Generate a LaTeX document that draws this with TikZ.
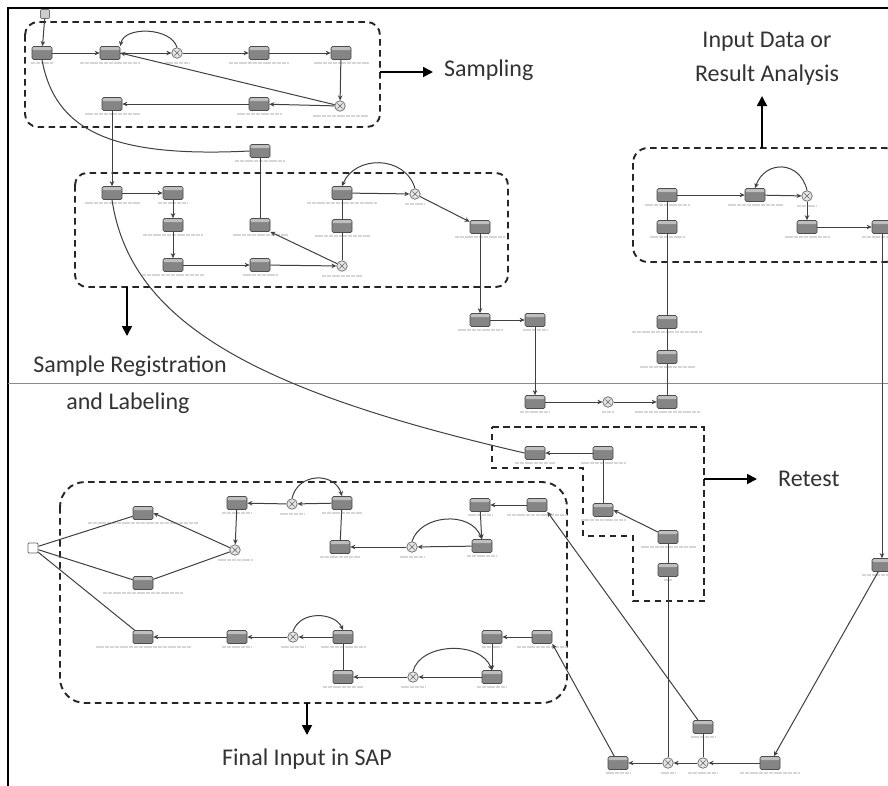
\documentclass[tikz,border=0pt]{standalone}
\usepackage{fontspec}
\setmainfont{Carlito}
\usetikzlibrary{arrows.meta}
\tikzset{
  task/.style={draw=black!70, fill=black!48, rounded corners=1.5pt, minimum width=20pt, minimum height=13pt, inner sep=0pt, line width=0.7pt,
    path picture={\fill[black!25] (path picture bounding box.north west) rectangle ([yshift=-3.5pt]path picture bounding box.north east);}},
  gate/.style={circle, draw=black!60, fill=black!10, minimum size=10.5pt, inner sep=0pt, line width=0.7pt,
    path picture={\draw[black!60,line width=0.6pt] ([shift={(-2.6pt,-2.6pt)}]path picture bounding box.center) -- ([shift={(2.6pt,2.6pt)}]path picture bounding box.center)
      ([shift={(-2.6pt,2.6pt)}]path picture bounding box.center) -- ([shift={(2.6pt,-2.6pt)}]path picture bounding box.center);}},
  startevt/.style={draw=black!55, fill=black!20, rounded corners=1pt, minimum width=9pt, minimum height=9pt, inner sep=0pt, line width=0.6pt},
  startwhite/.style={draw=black!60, fill=white, rounded corners=1pt, minimum width=10pt, minimum height=10pt, inner sep=0pt, line width=0.9pt},
  flow/.style={draw=black!75, line width=1pt, -{Stealth[length=5pt,width=4.5pt]}},
  link/.style={draw=black!75, line width=1pt},
  sublbl/.style={draw=black!16, line width=2pt, dash pattern=on 4pt off 0.8pt},
  grp/.style={draw=black!85, line width=1.9pt, dash pattern=on 6.5pt off 4.5pt},
  big/.style={draw=black, line width=1.8pt, -{Triangle[length=10pt,width=10pt]}},
  lbl/.style={font=\fontsize{24}{28}\selectfont, text=black!80, inner sep=0pt},
}
\newcommand\tk[4]{\node[task] (#1) at (#2,#3) {}; \draw[sublbl] (#2-#4/2,#3+10) -- ++(#4,0);}
\newcommand\gw[4]{\node[gate] (#1) at (#2,#3) {}; \draw[sublbl] (#2-#4/2,#3+10) -- ++(#4,0);}
\begin{document}
\begin{tikzpicture}[x=1pt,y=-1pt]
\useasboundingbox (0,0) rectangle (888,785);
\clip (0,0) rectangle (888,785);
\fill[white] (0,0) rectangle (888,785);
% frame and separator
\draw[line width=2.8pt] (8,786) -- (8,8) -- (890,8);
\draw[black!45, line width=0.9pt] (8,383) -- (890,383);

% group boxes
\draw[grp, rounded corners=13pt] (25,22) rectangle (380,127);
\draw[grp, rounded corners=12pt] (75,173) rectangle (508,287);
\draw[grp, rounded corners=15pt] (633,148) rectangle (900,262);
\draw[grp, rounded corners=25pt] (60,482) rectangle (567,703);
\draw[grp] (492,427) -- (704,427) -- (704,601) -- (633,601) -- (633,536) -- (583,536) -- (583,468) -- (492,468) -- cycle;

% ---- top: sampling
\node[startevt] (st) at (45,14) {};
\tk{N1}{42}{53}{22}
\tk{N2}{110}{53}{60}
\gw{G1}{177}{53}{25}
\tk{N3}{259}{53}{60}
\tk{N4}{341}{53}{55}
\gw{G2}{340}{106}{55}
\tk{N5}{259}{104}{45}
\tk{N6}{112}{104}{55}
\tk{N7}{260}{151}{50}
% ---- group 2
\tk{N8}{112}{193}{55}
\tk{N9}{173}{193}{30}
\tk{N10}{173}{225}{60}
\tk{N11}{173}{265}{62}
\tk{N12}{260}{265}{35}
\gw{G3}{342}{266}{40}
\tk{N13}{260}{225}{55}
\tk{N14}{342}{226}{55}
\tk{N15}{342}{193}{70}
\gw{G4}{415}{194}{20}
\tk{N16}{480}{227}{50}
\tk{N17}{480}{320}{45}
\tk{N18}{535}{320}{25}
\tk{N19}{535}{402}{30}
\gw{G5}{608}{402}{12}
\tk{N20}{667}{402}{65}
\tk{N21}{667}{357}{55}
\tk{N22}{667}{322}{70}
\tk{N24}{667}{227}{35}
\tk{N23}{667}{195}{45}
\tk{N25}{755}{195}{55}
\gw{G6}{807}{196}{20}
\tk{N26}{807}{227}{45}
\tk{N27}{882}{227}{40}
\tk{N28}{882}{565}{40}
\tk{N29}{770}{763}{60}
\gw{G8}{703}{763}{30}
\gw{G7}{668}{763}{15}
\tk{N30}{618}{763}{25}
\tk{N31}{703}{727}{25}
% ---- retest
\tk{R1}{535}{453}{40}
\tk{R2}{603}{453}{45}
\tk{R3}{603}{510}{45}
\tk{R4}{668}{537}{55}
\tk{R5}{668}{570}{8}
% ---- final input
\node[startwhite] (S2) at (33,548) {};
\tk{F1}{143}{513}{110}
\tk{F2}{143}{583}{80}
\gw{G9}{235}{550}{35}
\tk{F3}{237}{503}{30}
\gw{G10}{292}{504}{25}
\tk{F4}{342}{503}{40}
\tk{F5}{340}{547}{40}
\gw{G11}{412}{547}{25}
\tk{F6}{482}{546}{30}
\tk{F7}{480}{505}{25}
\tk{F8}{537}{505}{60}
\tk{F9}{143}{637}{95}
\tk{F10}{237}{637}{30}
\gw{G12}{293}{637}{25}
\tk{F11}{343}{637}{45}
\tk{F12}{343}{677}{40}
\gw{G13}{413}{677}{25}
\tk{F13}{492}{677}{30}
\tk{F14}{492}{637}{20}
\tk{F15}{542}{637}{50}

% ---- connectors: sampling
\draw[flow] (st) -- (N1);
\draw[flow] (N1) -- (N2);
\draw[flow] (N2) -- (G1);
\draw[flow] (G1.north) .. controls (171,27) and (124,26) .. (N2.north east);
\draw[flow] (G1) -- (N3);
\draw[flow] (N3) -- (N4);
\draw[flow] (N4) -- (G2);
\draw[flow] (G2) -- (N5);
\draw[flow] (N5) -- (N6);
\draw[flow] (G2) -- (N2.east);
\draw[link] (N1.south) .. controls (55,130) and (110,158) .. (N7.west);
\draw[flow] (N6) -- (N8);
% group 2
\draw[flow] (N8) -- (N9);
\draw[flow] (N9) -- (N10);
\draw[flow] (N10) -- (N11);
\draw[flow] (N11) -- (N12);
\draw[flow] (N12) -- (G3);
\draw[flow] (G3) -- (N13.south east);
\draw[link] (N13) -- (N7);
\draw[link] (G3) -- (N14);
\draw[link] (N14) -- (N15);
\draw[flow] (N15) -- (G4);
\draw[flow] (G4.north) .. controls (405,155) and (355,155) .. (N15.north);
\draw[flow] (G4) -- (N16);
\draw[flow] (N16) -- (N17);
\draw[flow] (N17) -- (N18);
\draw[flow] (N18) -- (N19);
\draw[flow] (N19) -- (G5);
\draw[flow] (G5) -- (N20);
\draw[link] (N20) -- (N21);
\draw[link] (N21) -- (N22);
\draw[link] (N22) -- (N24);
\draw[link] (N24) -- (N23);
\draw[flow] (N23) -- (N25);
\draw[flow] (N25) -- (G6);
\draw[flow] (G6.north) .. controls (800,160) and (765,160) .. (N25.north);
\draw[flow] (G6) -- (N26);
\draw[flow] (N26) -- (N27);
\draw[flow] (N27) -- (N28);
\draw[flow] (N28) -- (N29);
\draw[flow] (N29) -- (G8);
\draw[flow] (G8) -- (G7);
\draw[flow] (G7) -- (N30);
\draw[link] (N31) -- (G8);
\draw[link] (R5) -- (G7);
% retest
\draw[link] (N8.south) .. controls (130,320) and (250,390) .. (R1.west);
\draw[flow] (R2) -- (R1);
\draw[link] (R2) -- (R3);
\draw[flow] (R4) -- (R3.east);
\draw[link] (R4) -- (R5);
\draw[flow] (N31) -- (F8.south east);
\draw[flow] (N30) -- (F15.south east);
% final input
\draw[link] (S2) -- (F1);
\draw[link] (S2) -- (F2);
\draw[link] (S2) -- (F9);
\draw[flow] (G9) -- (F1.east);
\draw[link] (G9) -- (F2);
\draw[flow] (F3) -- (G9);
\draw[flow] (G10) -- (F3);
\draw[flow] (G10.north) .. controls (298,472) and (335,472) .. (F4.north);
\draw[flow] (F4) -- (G10);
\draw[link] (F4) -- (F5);
\draw[flow] (G11) -- (F5);
\draw[flow] (G11.north) .. controls (420,515) and (470,510) .. (F6.north);
\draw[flow] (F6) -- (G11);
\draw[flow] (F7) -- (F6);
\draw[flow] (F8) -- (F7);
\draw[flow] (F10) -- (F9);
\draw[flow] (G12) -- (F10);
\draw[flow] (G12.north) .. controls (300,610) and (335,612) .. (F11.north);
\draw[flow] (F11) -- (G12);
\draw[link] (F11) -- (F12);
\draw[flow] (G13) -- (F12);
\draw[flow] (G13.north) .. controls (420,643) and (480,640) .. (F13.north);
\draw[flow] (F13) -- (G13);
\draw[flow] (F14) -- (F13);
\draw[flow] (F15) -- (F14);

% ---- phase labels
\coordinate (sa1) at (380,72); \coordinate (sa2) at (433,72);
\draw[big] (sa1) -- (sa2);
\node[lbl, anchor=west] (tSampling) at (444,70) {Sampling};
\coordinate (in1) at (762,148); \coordinate (in2) at (762,96);
\draw[big] (in1) -- (in2);
\node[lbl] (tInput1) at (767,42) {Input Data or};
\node[lbl] (tInput2) at (767,75) {Result Analysis};
\coordinate (sr1) at (127,287); \coordinate (sr2) at (127,336);
\draw[big] (sr1) -- (sr2);
\node[lbl] (tSR1) at (130,366) {Sample Registration};
\node[lbl] (tSR2) at (128,403) {and Labeling};
\coordinate (rt1) at (704,479); \coordinate (rt2) at (757,479);
\draw[big] (rt1) -- (rt2);
\node[lbl, anchor=west] (tRetest) at (778,479) {Retest};
\coordinate (fi1) at (307,703); \coordinate (fi2) at (307,735);
\draw[big] (fi1) -- (fi2);
\node[lbl] (tFinal) at (307,759) {Final Input in SAP};
\end{tikzpicture}
\end{document}
